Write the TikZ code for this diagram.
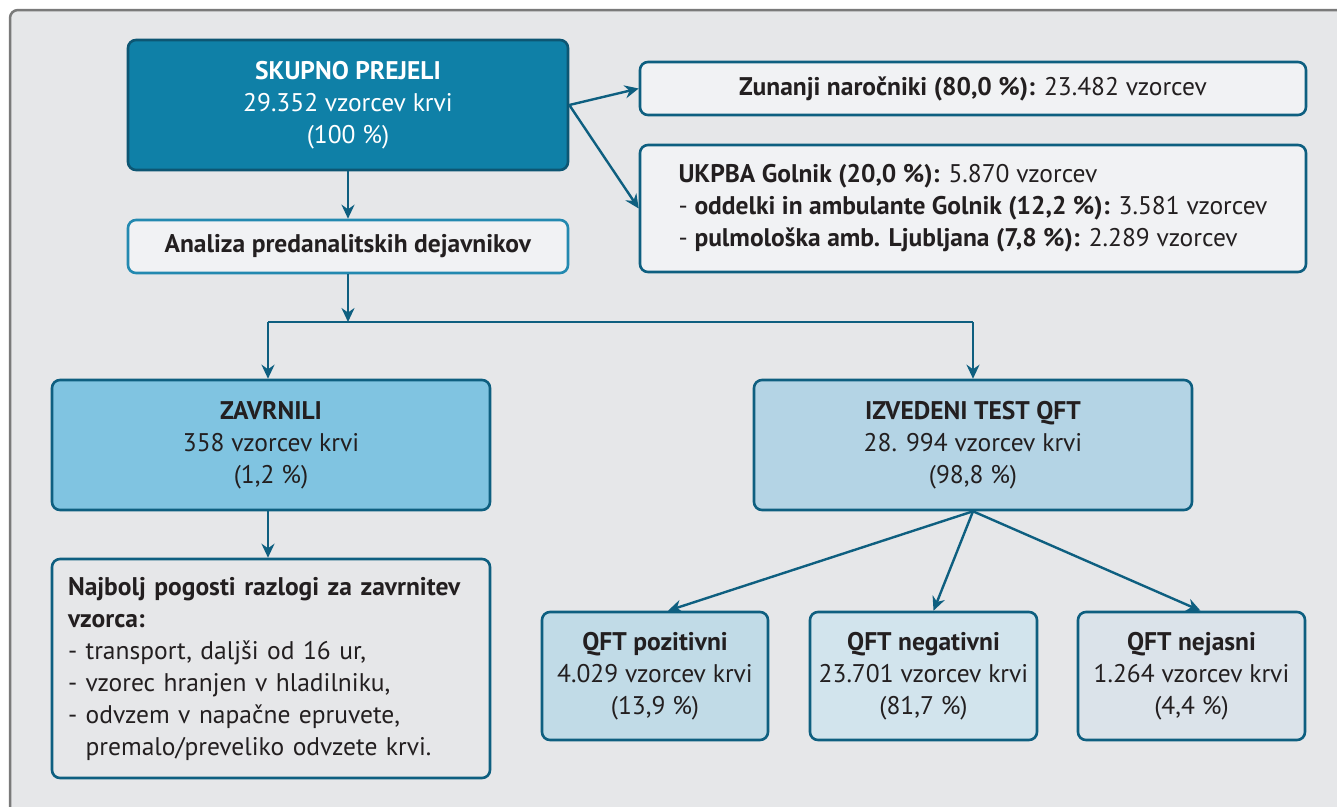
\documentclass[tikz,border=0pt]{standalone}
\usepackage{fontspec}
\setmainfont{PT Sans}
\usetikzlibrary{arrows.meta}

\definecolor{panel}{HTML}{E6E7E9}
\definecolor{framegray}{HTML}{7A7A7A}
\definecolor{tealdark}{HTML}{0F80A7}
\definecolor{tealline}{HTML}{0E5F80}
\definecolor{analizaline}{HTML}{2389B0}
\definecolor{boxlight}{HTML}{F1F2F4}
\definecolor{zavfill}{HTML}{80C4E1}
\definecolor{izvfill}{HTML}{B4D4E5}
\definecolor{posfill}{HTML}{C1DBE7}
\definecolor{negfill}{HTML}{D2E4ED}
\definecolor{nejfill}{HTML}{DBE3EA}
\definecolor{ink}{HTML}{231F20}

\begin{document}
\begin{tikzpicture}[x=1pt,y=-1pt,>={Stealth[length=14pt,width=13pt]},
  main box/.style={draw=tealline,line width=2.6pt,rounded corners=8pt,align=center,
    text=ink,font=\fontsize{25.5}{32}\selectfont,inner sep=0pt},
  dark box/.style={main box,fill=tealdark,draw=tealline!90!black,text=white},
  flow/.style={->,draw=tealline,line width=2.4pt}]

  \useasboundingbox (0,0) rectangle (1337,806);
  \draw[framegray,line width=2.5pt,fill=panel,rounded corners=8pt] (10,10) rectangle (1360,830);

  % top row
  \node[dark box,minimum width=440pt,minimum height=130pt] (total) at (348,105)
    {\textbf{SKUPNO PREJELI}\\29.352 vzorcev krvi\\(100 \%)};
  \node[main box,fill=boxlight,minimum width=666pt,minimum height=53pt] (ext) at (973,88.5)
    {\textbf{Zunanji naročniki (80,0 \%):} 23.482 vzorcev};
  \node[main box,fill=boxlight,minimum width=666pt,minimum height=127pt,align=left] (ukp) at (973,208.5)
    {\textbf{UKPBA Golnik (20,0 \%):} 5.870 vzorcev\\
     - \textbf{oddelki in ambulante Golnik (12,2 \%):} 3.581 vzorcev\\
     - \textbf{pulmološka amb. Ljubljana (7,8 \%):} 2.289 vzorcev};
  \node[main box,fill=boxlight,draw=analizaline,minimum width=440pt,minimum height=53pt] (ana) at (348,246.5)
    {\textbf{Analiza predanalitskih dejavnikov}};

  % middle row
  \node[main box,fill=zavfill,minimum width=438pt,minimum height=130pt] (zav) at (271,445)
    {\textbf{ZAVRNILI}\\358 vzorcev krvi\\(1,2 \%)};
  \node[main box,fill=izvfill,minimum width=438pt,minimum height=130pt] (izv) at (973,445)
    {\textbf{IZVEDENI TEST QFT}\\28. 994 vzorcev krvi\\(98,8 \%)};

  % bottom row
  \node[main box,fill=panel,minimum width=438pt,minimum height=219pt,text width=406pt,align=left] (why) at (271,668.5)
    {\textbf{Najbolj pogosti razlogi za zavrnitev}\\\textbf{vzorca:}\\
     - transport, daljši od 16 ur,\\
     - vzorec hranjen v hladilniku,\\
     - odvzem v napačne epruvete,\\
     \phantom{- }premalo/preveliko odvzete krvi.};
  \node[main box,fill=posfill,minimum width=226pt,minimum height=128pt] (pos) at (655,676)
    {\textbf{QFT pozitivni}\\4.029 vzorcev krvi\\(13,9 \%)};
  \node[main box,fill=negfill,minimum width=227pt,minimum height=128pt] (neg) at (923.5,676)
    {\textbf{QFT negativni}\\23.701 vzorcev krvi\\(81,7 \%)};
  \node[main box,fill=nejfill,minimum width=227pt,minimum height=128pt] (nej) at (1191.5,676)
    {\textbf{QFT nejasni}\\1.264 vzorcev krvi\\(4,4 \%)};

  % connectors
  \draw[flow] (total.east) -- (ext.west);
  \draw[flow] (total.east) -- (ukp.west);
  \draw[flow] (total.south) -- (ana.north);
  \draw[flow] (ana.south) -- (348,322) coordinate (split);
  \draw[tealline,line width=2.4pt] ([xshift=-3pt]zav.north |- split) -- (izv.north |- split);
  \draw[flow] ([xshift=-3pt]zav.north |- split) -- ([xshift=-3pt]zav.north);
  \draw[flow] (izv.north |- split) -- (izv.north);
  \draw[flow] ([xshift=-3pt]zav.south) -- ([xshift=-3pt]why.north);
  \draw[flow] (izv.south) -- ([xshift=13pt]pos.north);
  \draw[flow] (izv.south) -- ([xshift=10pt]neg.north);
  \draw[flow] (izv.south) -- ([xshift=9pt]nej.north);
\end{tikzpicture}
\end{document}
